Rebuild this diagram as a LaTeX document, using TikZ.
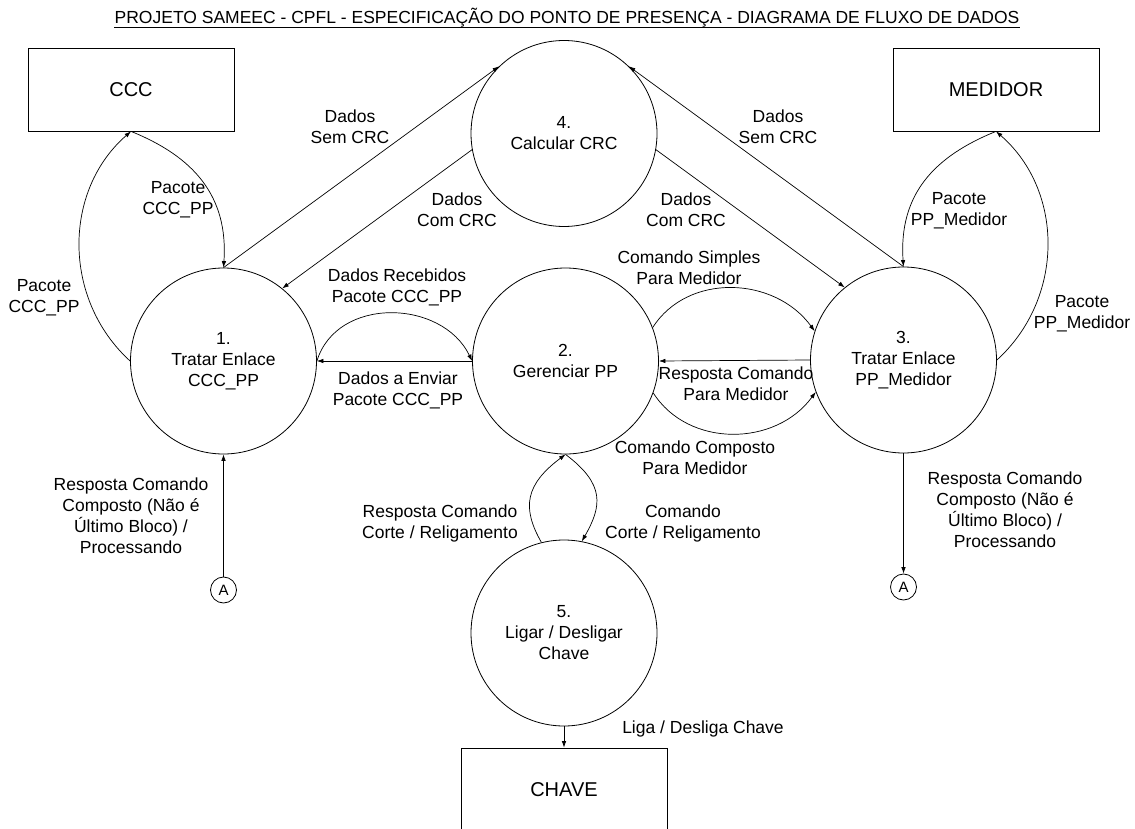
\documentclass[tikz,border=0pt]{standalone}
\usepackage{fontspec}
\setmainfont{Liberation Sans}
\usetikzlibrary{arrows.meta}
\begin{document}
\begin{tikzpicture}[x=1pt,y=-1pt,
  proc/.style={circle, draw, line width=0.8pt, minimum size=186pt, inner sep=0pt, align=center, font=\fontsize{17.5}{21}\selectfont},
  ext/.style={rectangle, draw, line width=0.8pt, minimum width=206pt, minimum height=83pt, inner sep=0pt, font=\fontsize{20}{24}\selectfont},
  conn/.style={circle, draw, line width=0.8pt, minimum size=26pt, inner sep=0pt, font=\fontsize{15}{18}\selectfont},
  flow/.style={draw, line width=0.7pt, -{Latex[length=6.5pt,width=4.5pt]}},
  lbl/.style={align=center, font=\fontsize{17.5}{21}\selectfont, inner sep=0pt}]
\clip (0,0) rectangle (1135,829);
\fill[white] (0,0) rectangle (1135,829);

% title
\node[inner sep=0pt, anchor=base, font=\fontsize{17.5}{21}\selectfont] (title) at (567,24) {PROJETO SAMEEC - CPFL - ESPECIFICAÇÃO DO PONTO DE PRESENÇA - DIAGRAMA DE FLUXO DE DADOS};
\draw[line width=0.8pt] ([yshift=-3.5pt]title.base west) -- ([yshift=-3.5pt]title.base east);

% externals
\node[ext] (ccc) at (131,89.5) {CCC};
\node[ext] (med) at (996,89.5) {MEDIDOR};
\node[ext] (chave) at (564,789.5) {CHAVE};

% processes
\node[proc] (c1) at (223.5,361) {1.\\Tratar Enlace\\CCC\_PP};
\node[proc] (c2) at (565.5,361) {2.\\Gerenciar PP};
\node[proc] (c3) at (903.5,360) {3.\\Tratar Enlace\\PP\_Medidor};
\node[proc] (c4) at (564,133.5) {4.\\Calcular CRC};
\node[proc] (c5) at (564,633) {5.\\Ligar / Desligar\\Chave};

% connectors A
\node[conn] (aL) at (223.5,590) {A};
\node[conn] (aR) at (903.5,587) {A};

% flows
\draw[flow] (c1.north) -- (c4.134);
\draw[flow] (c4.190) -- (c1.51);
\draw[flow] (c3.north) -- (c4.46);
\draw[flow] (c4.350) -- (c3.129);

\draw[flow] (c1.west) .. controls +(-68,-62) and +(-68,59) .. (ccc.south);
\draw[flow] (ccc.south) .. controls +(62,25) and +(5,-72) .. (c1.north);
\draw[flow] (c3.east) .. controls +(68,-62) and +(68,59) .. (med.south);
\draw[flow] (med.south) .. controls +(-62,25) and +(-5,-72) .. (c3.north);

\draw[flow] (c1.east) .. controls +(20,-65) and +(-30,-62) .. (c2.west);
\draw[flow] (c2.west) -- (c1.east);
\draw[flow] (c2.21) .. controls +(35,-55) and +(-40,-55) .. (c3.162);
\draw[flow] (c3.west) -- (c2.east);
\draw[flow] (c2.-20) .. controls +(35,55) and +(-40,55) .. (c3.200);
\draw[flow] (c5.104) .. controls +(-20,-35) and +(-40,30) .. (c2.south);
\draw[flow] (c2.south) .. controls +(40,30) and +(20,-35) .. (c5.79);
\draw[flow] (aL.north) -- (c1.south);
\draw[flow] (c3.south) -- (aR.north);
\draw[flow] (c5.south) -- (chave.north);

% labels
\node[lbl] (l1) at (44,298) {Pacote\\CCC\_PP};
\node[lbl] (l2) at (178,200) {Pacote\\CCC\_PP};
\node[lbl] (l3) at (350,127) {Dados\\Sem CRC};
\node[lbl] (l4) at (457,210) {Dados\\Com CRC};
\node[lbl] (l5) at (778,127) {Dados\\Sem CRC};
\node[lbl] (l6) at (686,210) {Dados\\Com CRC};
\node[lbl] (l7) at (959,211) {Pacote\\PP\_Medidor};
\node[lbl] (l8) at (1082,314) {Pacote\\PP\_Medidor};
\node[lbl] (l9) at (397,287) {Dados Recebidos\\Pacote CCC\_PP};
\node[lbl] (l10) at (398,390) {Dados a Enviar\\Pacote CCC\_PP};
\node[lbl] (l11) at (689,268) {Comando Simples\\Para Medidor};
\node[lbl] (l12) at (736,384) {Resposta Comando\\Para Medidor};
\node[lbl] (l13) at (695,458) {Comando Composto\\Para Medidor};
\node[lbl] (l14) at (440,523) {Resposta Comando\\Corte / Religamento};
\node[lbl] (l15) at (683,523) {Comando\\Corte / Religamento};
\node[lbl] (l16) at (131,516) {Resposta Comando\\Composto (Não é\\Último Bloco) /\\Processando};
\node[lbl] (l17) at (1005,510) {Resposta Comando\\Composto (Não é\\Último Bloco) /\\Processando};
\node[lbl] (l18) at (703,729) {Liga / Desliga Chave};
\end{tikzpicture}
\end{document}
